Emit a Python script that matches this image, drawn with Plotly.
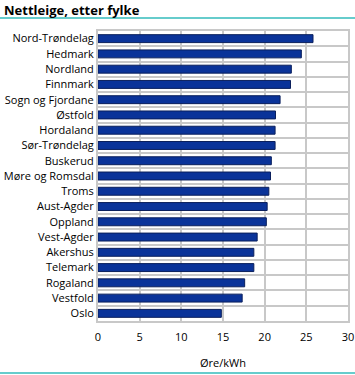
import plotly.graph_objects as go

categories = ["Nord-Trøndelag", "Hedmark", "Nordland", "Finnmark", "Sogn og Fjordane",
              "Østfold", "Hordaland", "Sør-Trøndelag", "Buskerud", "Møre og Romsdal",
              "Troms", "Aust-Agder", "Oppland", "Vest-Agder", "Akershus", "Telemark",
              "Rogaland", "Vestfold", "Oslo"]
values = [25.8, 24.4, 23.2, 23.1, 21.85, 21.3, 21.25, 21.25, 20.8, 20.7,
          20.5, 20.3, 20.2, 19.1, 18.7, 18.7, 17.6, 17.3, 14.8]
x_ticks = [0, 5, 10, 15, 20, 25, 30]

FONT = "Open Sans, Liberation Sans, sans-serif"

fig = go.Figure(go.Bar(
    x=values, y=categories, orientation="h",
    marker=dict(color="#0a3399", line=dict(color="#0a1f5c", width=1)),
    width=0.52,
))

fig.update_layout(
    width=355, height=375,
    margin=dict(l=98, r=7, t=31, b=54, autoexpand=False),
    paper_bgcolor="white", plot_bgcolor="white",
    font=dict(family=FONT, size=11, color="#000"),
    showlegend=False,
    xaxis=dict(range=[0, 30], tickvals=x_ticks, showgrid=True, gridcolor="#c8c8c8",
               gridwidth=2, zeroline=False, showline=True, linecolor="#c8c8c8",
               linewidth=2, mirror=True, ticks="", ticklen=0, automargin=False,
               ticklabelstandoff=5,
               title=dict(text="Øre/kWh", font=dict(size=11), standoff=16),
               tickfont=dict(size=11), fixedrange=True),
    yaxis=dict(autorange="reversed", tickson="boundaries", showgrid=True,
               gridcolor="#c8c8c8", gridwidth=2, showline=True, linecolor="#c8c8c8",
               linewidth=2, mirror=True, ticks="", ticklabelstandoff=0, automargin=False,
               tickfont=dict(size=11), fixedrange=True),
    shapes=[
        dict(type="line", xref="paper", yref="paper", x0=-98/250, x1=1+7/250,
             y0=1+13/290, y1=1+13/290, line=dict(color="#66cccc", width=2)),
        dict(type="line", xref="paper", yref="paper", x0=-98/250, x1=1+7/250,
             y0=-52/290, y1=-52/290, line=dict(color="#66cccc", width=2)),
    ],
    annotations=[dict(text="<b>Nettleige, etter fylke</b>", xref="paper", yref="paper",
                      x=-96/250, y=1+21/290, xanchor="left", yanchor="middle",
                      showarrow=False, font=dict(size=13, family=FONT, color="#000"))],
)

fig.write_html("out.html", config={"displayModeBar": False},
               post_script="document.body.style.margin='0';document.body.style.overflow='hidden';")
